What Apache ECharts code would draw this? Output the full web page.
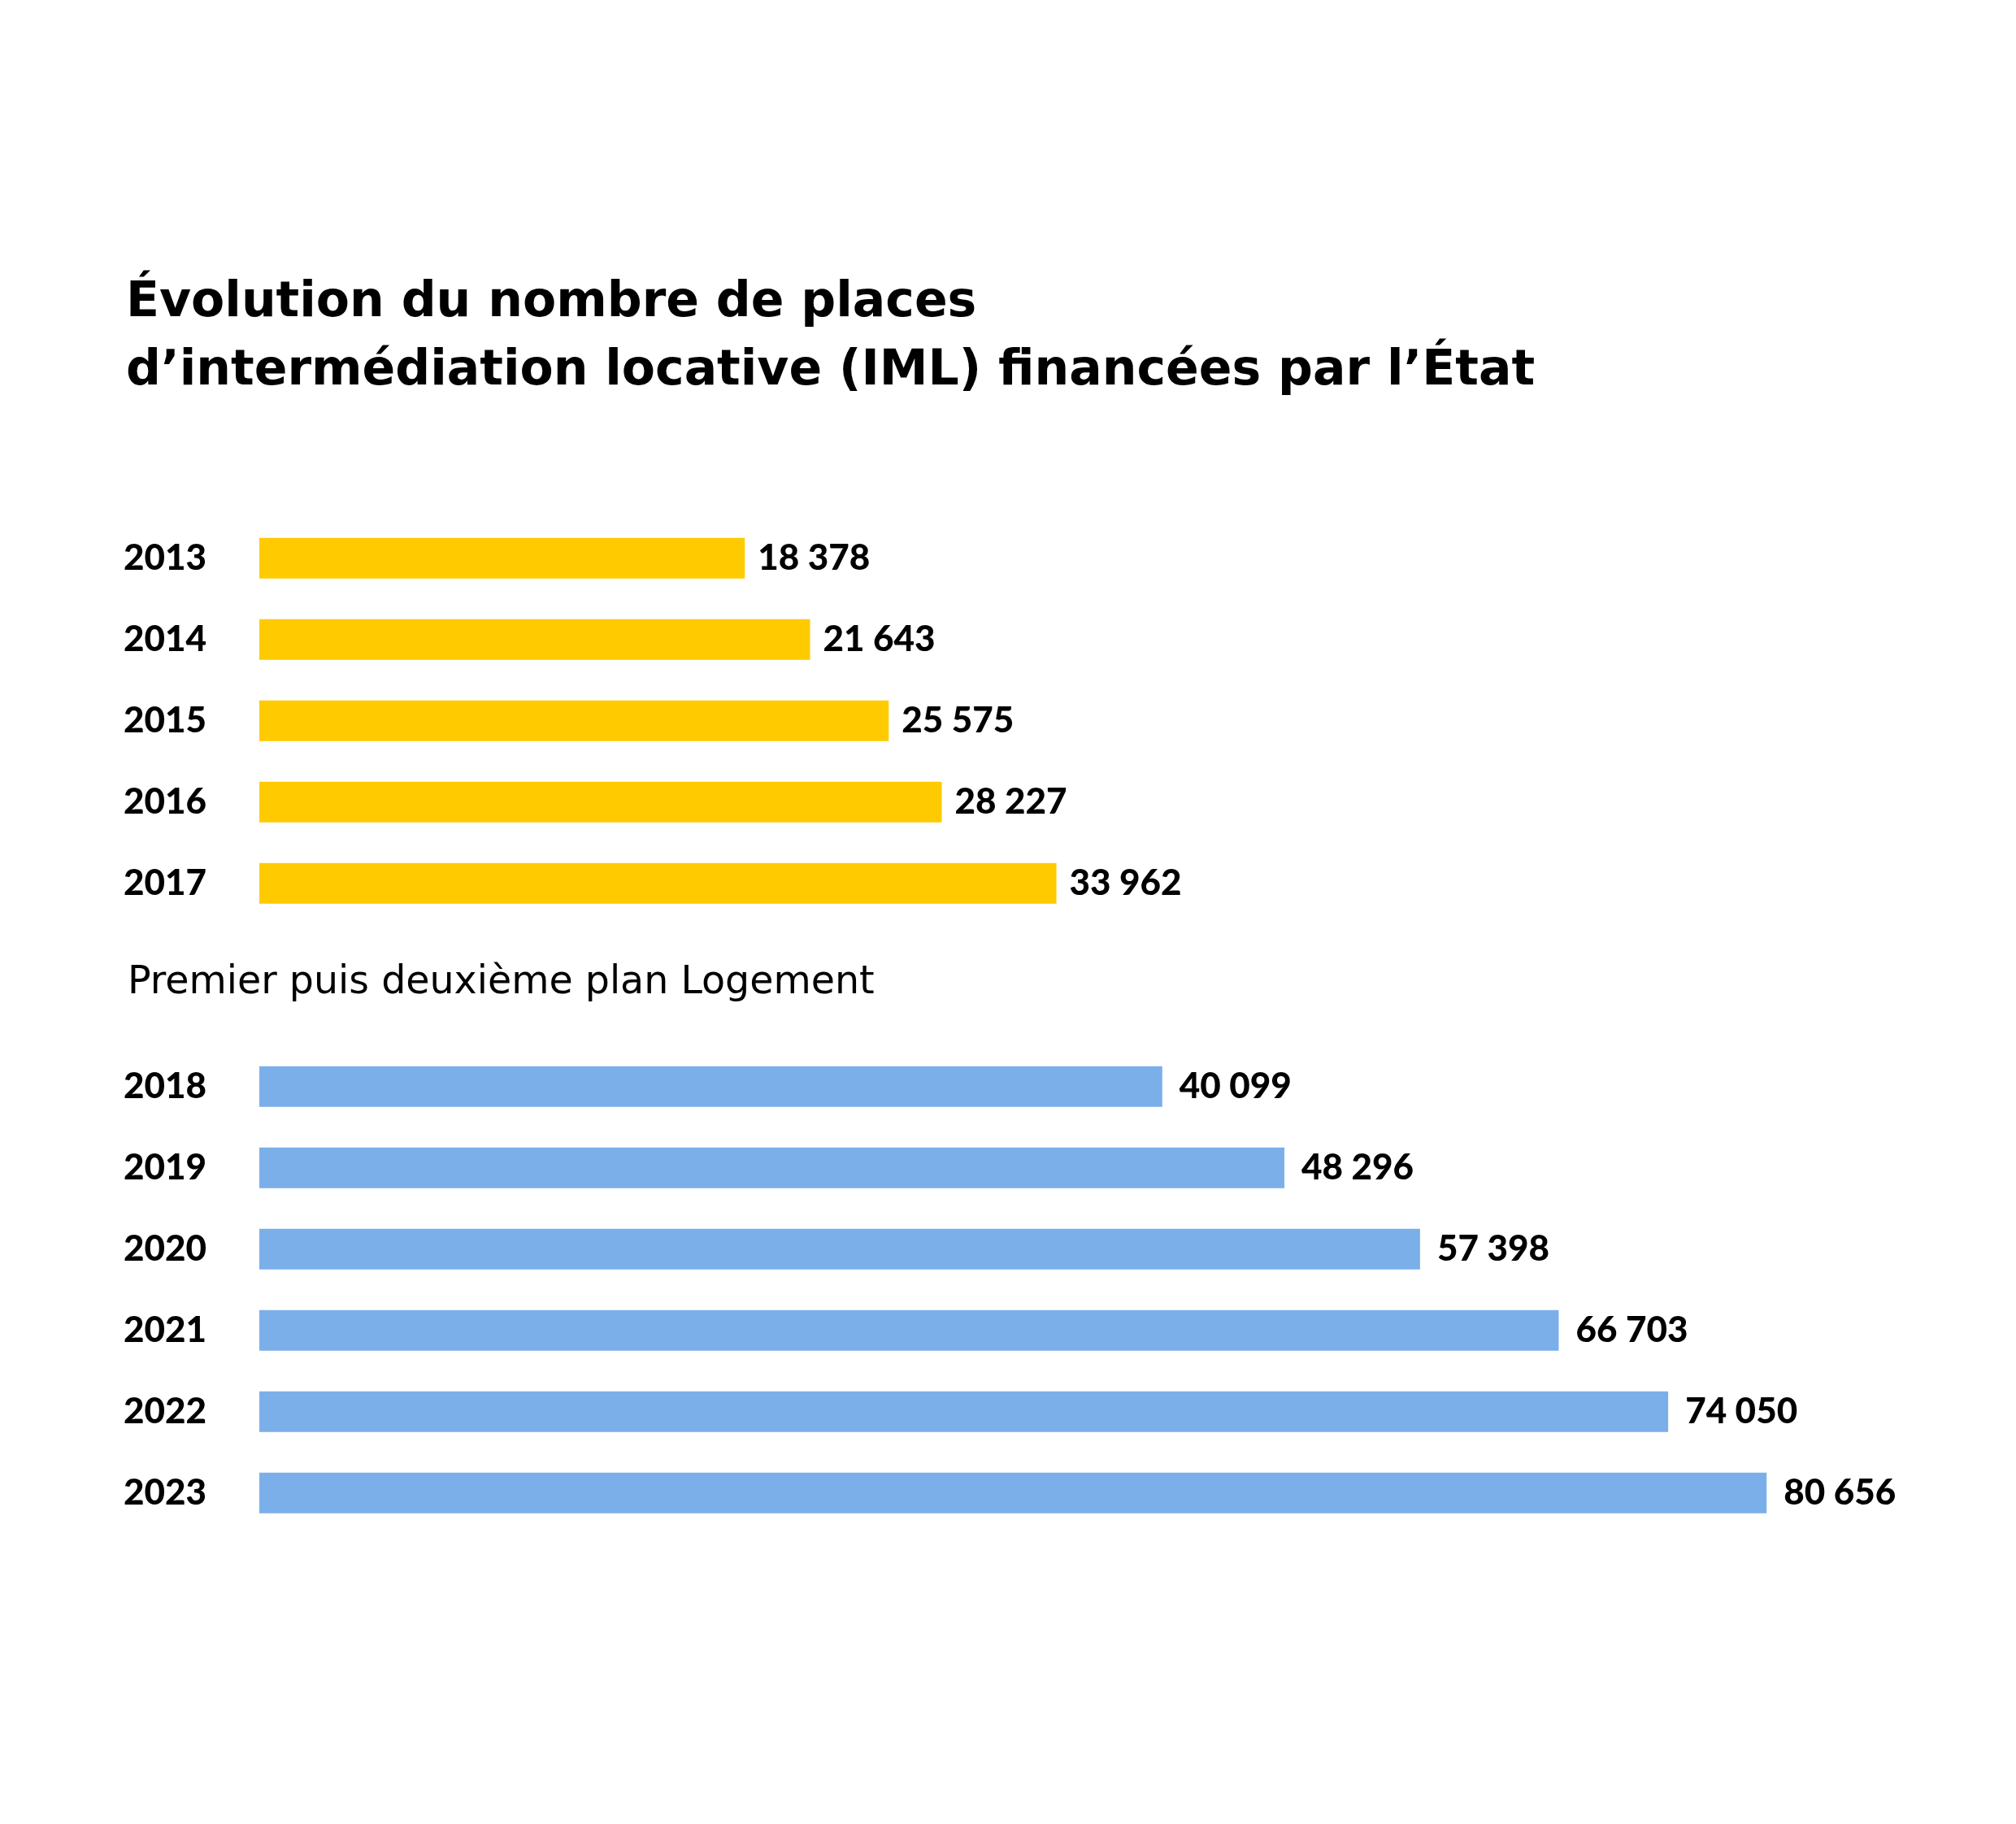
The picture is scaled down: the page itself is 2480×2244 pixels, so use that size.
<!DOCTYPE html>
<html><head><meta charset="utf-8">
<script src="https://cdn.jsdelivr.net/npm/echarts@6/dist/echarts.min.js"></script>
<style>html,body{margin:0;padding:0;background:#fff}#c{width:2480px;height:2244px}</style>
</head><body><div id="c"></div>
<script>
const titleLines = ["Évolution du nombre de places", "d’intermédiation locative (IML) financées par l’État"];
const subtitleText = "Premier puis deuxième plan Logement";
const yearsA = ["2013", "2014", "2015", "2016", "2017"];
const valuesA = [18378, 21643, 25575, 28227, 33962];
const yearsB = ["2018", "2019", "2020", "2021", "2022", "2023"];
const valuesB = [40099, 48296, 57398, 66703, 74050, 80656];

const NUMFONT = 'Lato';
const TXTFONT = '"DejaVu Sans"';
const fmt = v => String(v).replace(/\B(?=(\d{3})+(?!\d))/g, ' ');

const chart = echarts.init(document.getElementById('c'), null, {renderer: 'canvas'});

function yAx(gi, cats) {
  return {
    type: 'category', gridIndex: gi, data: cats, inverse: true,
    axisLine: {show: false}, axisTick: {show: false}, splitLine: {show: false},
    axisLabel: {
      align: 'left', margin: 167, color: '#000', fontFamily: NUMFONT,
      fontWeight: 900, fontSize: 44
    }
  };
}
function xAx(gi, min, max) {
  return {
    type: 'value', gridIndex: gi, min: min, max: max, startValue: min, show: false,
    splitLine: {show: false}
  };
}
function barSeries(gi, vals, color, dist) {
  return {
    type: 'bar', xAxisIndex: gi, yAxisIndex: gi, data: vals, barWidth: 50,
    itemStyle: {color: color},
    label: {
      show: true, position: 'right', distance: dist, color: '#000',
      fontFamily: NUMFONT, fontWeight: 900, fontSize: 44,
      formatter: p => fmt(p.value)
    },
    silent: true, animation: false
  };
}

chart.setOption({
  backgroundColor: '#fff',
  animation: false,
  title: [
    {
      text: titleLines.join('\n'), left: 150, top: 326,
      textStyle: {fontFamily: TXTFONT, fontWeight: 'bold', fontSize: 60, lineHeight: 84, color: '#000'}
    },
    {
      text: subtitleText, left: 152, top: 1181,
      textStyle: {fontFamily: TXTFONT, fontWeight: 'normal', fontSize: 47.5, lineHeight: 48, color: '#000'}
    }
  ],
  grid: [
    {left: 319, top: 636.7, width: 1129.1, height: 500, outerBoundsMode: 'none', containLabel: false},
    {left: 319, top: 1286.7, width: 2025.5, height: 600, outerBoundsMode: 'none', containLabel: false}
  ],
  xAxis: [xAx(0, -5900, 40000), xAx(1, -20500, 90000)],
  yAxis: [yAx(0, yearsA), yAx(1, yearsB)],
  series: [
    barSeries(0, valuesA, '#FFCA00', 16),
    barSeries(1, valuesB, '#7BAFE9', 21)
  ]
});
</script></body></html>
